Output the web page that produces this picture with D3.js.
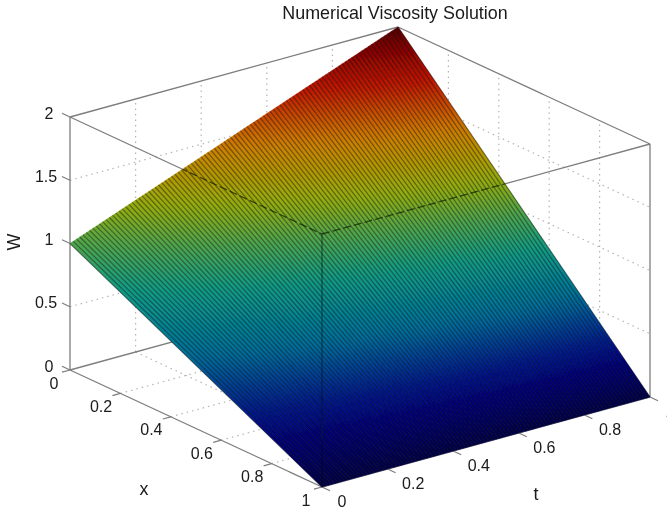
<!DOCTYPE html>
<html>
<head>
<meta charset="utf-8">
<script src="https://d3js.org/d3.v7.min.js"></script>
<style>
body { margin: 0; background: #fff; }
svg { display: block; }
text { font-family: "Liberation Sans", Arial, sans-serif; fill: #1a1a1a; }
</style>
</head>
<body>
<svg id="chart"></svg>
<script>
var width = 667;
var height = 510;

var xTicks = [0, 0.2, 0.4, 0.6, 0.8, 1];
var tTicks = [0, 0.2, 0.4, 0.6, 0.8, 1];
var zTicks = [0, 0.5, 1, 1.5, 2];

// W, one row per x tick, one column per t tick
var wRows = [
  [1.00, 1.20, 1.40, 1.60, 1.80, 2.00],
  [0.80, 0.96, 1.12, 1.28, 1.44, 1.60],
  [0.60, 0.72, 0.84, 0.96, 1.08, 1.20],
  [0.40, 0.48, 0.56, 0.64, 0.72, 0.80],
  [0.20, 0.24, 0.28, 0.32, 0.36, 0.40],
  [0.00, 0.00, 0.00, 0.00, 0.00, 0.00]
];

// colour by height, as it looks in the picture
var colorZ = [0, 0.13, 0.26, 0.4, 0.53, 0.8, 1, 1.18, 1.45, 1.72, 1.93, 2];
var colorV = ["#000048", "#000070", "#000c8c", "#003c96", "#006e9c", "#0d9c88", "#4fa64c", "#97ad0a", "#cf7f00", "#c01200", "#780000", "#500000"];

var meshT = 100; // mesh cells along t
var meshX = 24;  // gradient stops along x

// oblique axes: each one adds an offset on the screen
var xToPx = d3.scaleLinear().domain([0, 1]).range([0, 252]);
var xToPy = d3.scaleLinear().domain([0, 1]).range([0, 117]);
var tToPx = d3.scaleLinear().domain([0, 1]).range([0, 328]);
var tToPy = d3.scaleLinear().domain([0, 1]).range([0, -90]);
var zToPy = d3.scaleLinear().domain([0, 2]).range([0, -253]);
var color = d3.scaleLinear().domain(colorZ).range(colorV);

function project(x, t, z) {
  return [70 + xToPx(x) + tToPx(t), 370 + xToPy(x) + tToPy(t) + zToPy(z)];
}

// bilinear lookup in the table, only used to shade between the ticks
function surfaceW(x, t) {
  var i = Math.min(Math.floor(x * 5), 4);
  var j = Math.min(Math.floor(t * 5), 4);
  var u = x * 5 - i;
  var v = t * 5 - j;
  return wRows[i][j] * (1 - u) * (1 - v) + wRows[i + 1][j] * u * (1 - v) +
    wRows[i][j + 1] * (1 - u) * v + wRows[i + 1][j + 1] * u * v;
}
function corner(x, t) {
  return project(x, t, surfaceW(x, t));
}

var svg = d3.select("#chart").attr("width", width).attr("height", height);
var defs = svg.append("defs");
defs.append("filter").attr("id", "soft")
  .attr("filterUnits", "userSpaceOnUse")
  .attr("x", 0).attr("y", 0).attr("width", width).attr("height", height)
  .append("feGaussianBlur").attr("stdDeviation", 0.45);

var root = svg.append("g").attr("filter", "url(#soft)");

function seg(a, b) {
  return { x1: a[0], y1: a[1], x2: b[0], y2: b[1] };
}
function drawLines(parent, data, stroke, w, dash, opacity) {
  parent.append("g").selectAll("line").data(data).enter().append("line")
    .attr("x1", function(d) { return d.x1; })
    .attr("y1", function(d) { return d.y1; })
    .attr("x2", function(d) { return d.x2; })
    .attr("y2", function(d) { return d.y2; })
    .attr("stroke", stroke)
    .attr("stroke-width", w)
    .attr("stroke-dasharray", dash)
    .attr("stroke-opacity", opacity);
}

// dotted grid on the two back walls and the floor
var grid = [];
tTicks.slice(1, 5).forEach(function(t) {
  grid.push(seg(project(0, t, 0), project(0, t, 2)));
  grid.push(seg(project(0, t, 0), project(1, t, 0)));
});
xTicks.slice(1, 5).forEach(function(x) {
  grid.push(seg(project(x, 1, 0), project(x, 1, 2)));
  grid.push(seg(project(x, 0, 0), project(x, 1, 0)));
});
zTicks.slice(1, 4).forEach(function(z) {
  grid.push(seg(project(0, 0, z), project(0, 1, z)));
  grid.push(seg(project(0, 1, z), project(1, 1, z)));
});
drawLines(root, grid, "#b4b4b4", 1.2, "1.5 4", 1);

// box edges
var box = [
  seg(project(0, 0, 0), project(1, 0, 0)),
  seg(project(1, 0, 0), project(1, 1, 0)),
  seg(project(0, 0, 0), project(0, 1, 0)),
  seg(project(0, 0, 0), project(0, 0, 2)),
  seg(project(1, 1, 0), project(1, 1, 2)),
  seg(project(0, 0, 2), project(0, 1, 2)),
  seg(project(0, 1, 2), project(1, 1, 2)),
  seg(project(0, 0, 2), project(1, 0, 2)),
  seg(project(1, 0, 2), project(1, 1, 2))
];
drawLines(root, box, "#7d7d7d", 1.3, null, 1);

// ticks
var ticks = [];
xTicks.forEach(function(x) {
  var a = project(x, 0, 0);
  ticks.push(seg(a, [a[0] - 8, a[1] + 2.2]));
});
tTicks.forEach(function(t) {
  var a = project(1, t, 0);
  ticks.push(seg(a, [a[0] + 8, a[1] + 3.7]));
});
zTicks.forEach(function(z) {
  var a = project(0, 0, z);
  ticks.push(seg(a, [a[0] - 8, a[1] - 3.7]));
});
drawLines(root, ticks, "#7d7d7d", 1.2, null, 1);

// one gradient for each mesh strip, running from x=0 to x=1
var strips = d3.range(meshT).map(function(j) {
  return { id: "strip" + j, t0: j / meshT, t1: (j + 1) / meshT };
});
defs.selectAll("linearGradient").data(strips).enter().append("linearGradient")
  .attr("id", function(d) { return d.id; })
  .attr("gradientUnits", "userSpaceOnUse")
  .attr("x1", function(d) { return corner(0, (d.t0 + d.t1) / 2)[0]; })
  .attr("y1", function(d) { return corner(0, (d.t0 + d.t1) / 2)[1]; })
  .attr("x2", function(d) { return corner(1, (d.t0 + d.t1) / 2)[0]; })
  .attr("y2", function(d) { return corner(1, (d.t0 + d.t1) / 2)[1]; })
  .selectAll("stop").data(function(d) {
    return d3.range(meshX + 1).map(function(i) {
      return { offset: i / meshX, w: surfaceW(i / meshX, (d.t0 + d.t1) / 2) };
    });
  }).enter().append("stop")
  .attr("offset", function(d) { return d.offset; })
  .attr("stop-color", function(d) { return color(d.w); });

root.append("g").selectAll("polygon").data(strips).enter().append("polygon")
  .attr("points", function(d) {
    return [corner(0, d.t0), corner(1, d.t0), corner(1, d.t1), corner(0, d.t1)].join(" ");
  })
  .attr("fill", function(d) { return "url(#" + d.id + ")"; })
  .attr("stroke", function(d) { return "url(#" + d.id + ")"; })
  .attr("stroke-width", 0.5);

// dark mesh lines across the surface
var mesh = d3.range(meshT + 1).map(function(j) {
  return seg(corner(0, j / meshT), corner(1, j / meshT));
});
drawLines(root, mesh, "#000", 1.25, null, 0.42);

// box edges that show through the surface
defs.append("clipPath").attr("id", "surfaceClip").append("polygon")
  .attr("points", [corner(0, 0), corner(0, 1), corner(1, 1), corner(1, 0)].join(" "));
var through = root.append("g").attr("clip-path", "url(#surfaceClip)");
drawLines(through, [
  seg(project(0, 0, 2), project(1, 0, 2)),
  seg(project(1, 0, 2), project(1, 1, 2))
], "#101d00", 1.3, "8 3", 0.7);
drawLines(through, [seg(project(1, 0, 0), project(1, 0, 2))], "#00141e", 1.2, null, 0.55);

// tick labels
var labels = root.append("g").attr("font-size", 16).attr("text-anchor", "middle");
function drawLabels(vals, pos, dxWhole, dxFrac, dy) {
  labels.append("g").selectAll("text").data(vals).enter().append("text")
    .attr("x", function(d) { return pos(d)[0] + (d % 1 ? dxFrac : dxWhole); })
    .attr("y", function(d) { return pos(d)[1] + dy; })
    .text(function(d) { return d; });
}
drawLabels(zTicks, function(z) { return project(0, 0, z); }, -21, -24, 1.5);
drawLabels(xTicks, function(x) { return project(x, 0, 0); }, -16, -19.4, 18.5);
drawLabels(tTicks, function(t) { return project(1, t, 0); }, 20, 25.6, 19.5);

root.append("text").attr("x", 395).attr("y", 19).attr("text-anchor", "middle")
  .attr("font-size", 17.9).text("Numerical Viscosity Solution");
root.append("text").attr("x", 144).attr("y", 495).attr("text-anchor", "middle")
  .attr("font-size", 17.9).text("x");
root.append("text").attr("x", 536).attr("y", 500).attr("text-anchor", "middle")
  .attr("font-size", 17.9).text("t");
root.append("text").attr("transform", "translate(20,242) rotate(-90)").attr("text-anchor", "middle")
  .attr("font-size", 17.9).text("W");
</script>
</body>
</html>
